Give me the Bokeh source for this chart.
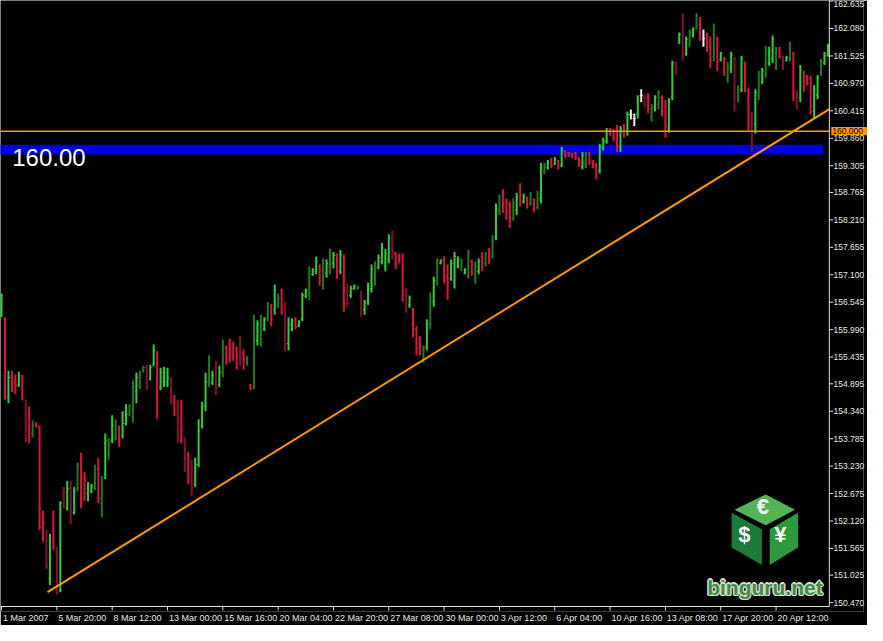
from bokeh.plotting import figure
from bokeh.models import Range1d, FixedTicker, NumeralTickFormatter, Label
from bokeh.core.properties import value
from bokeh.embed import file_html
from bokeh.resources import INLINE

# ---------------- data (USD/JPY, H4 bars, 1 Mar - 23 Apr 2007) ----------------
highs = [156.72, 156.24, 155.16, 155.16, 155.08, 155.14, 155.08, 154.57, 154.44, 154.16,
         154.11, 154.05, 152.33, 151.94, 151.86, 152.33, 151.60, 152.52, 152.81, 152.93,
         152.93, 152.81, 153.30, 153.50, 153.11, 152.91, 152.87, 153.26, 153.40, 153.03,
         153.89, 153.79, 154.26, 154.18, 154.05, 154.34, 154.48, 154.48, 154.96, 155.12,
         155.16, 155.26, 155.28, 155.28, 155.69, 155.55, 155.22, 155.24, 155.22, 155.02,
         154.67, 154.57, 154.57, 153.81, 153.52, 153.36, 153.40, 154.18, 154.53, 155.12,
         155.47, 155.16, 155.36, 155.26, 155.79, 155.67, 155.81, 155.75, 155.65, 155.86,
         155.59, 155.45, 154.89, 156.29, 156.18, 156.29, 156.24, 156.55, 156.51, 156.90,
         156.72, 156.82, 156.55, 156.24, 156.22, 156.24, 156.18, 156.74, 156.82, 157.27,
         157.23, 157.47, 157.31, 157.43, 157.41, 157.62, 157.56, 157.53, 157.60, 157.51,
         156.92, 156.88, 156.90, 156.88, 156.78, 156.59, 156.94, 157.31, 157.37, 157.51,
         157.74, 157.62, 157.92, 158.00, 157.56, 157.53, 157.53, 156.84, 156.68, 156.43,
         156.06, 155.86, 155.67, 156.20, 156.74, 157.06, 157.43, 157.41, 157.47, 157.31,
         157.41, 157.56, 157.47, 157.43, 157.23, 157.60, 157.41, 157.37, 157.43, 157.56,
         157.56, 157.64, 157.90, 158.54, 158.72, 158.83, 158.64, 158.58, 158.64, 158.76,
         158.95, 158.74, 158.68, 158.78, 158.64, 158.80, 159.36, 159.36, 159.42, 159.46,
         159.48, 159.42, 159.69, 159.62, 159.58, 159.56, 159.58, 159.48, 159.58, 159.58,
         159.58, 159.42, 159.36, 159.75, 159.87, 160.07, 160.07, 160.05, 160.13, 160.11,
         160.15, 160.40, 160.44, 160.36, 160.73, 160.85, 160.75, 160.77, 160.56, 160.73,
         160.83, 160.73, 160.63, 160.67, 161.43, 161.41, 162.00, 162.39, 161.92, 162.06,
         162.10, 162.39, 162.31, 162.06, 162.00, 161.92, 162.18, 161.92, 161.61, 161.51,
         161.40, 161.61, 161.51, 160.93, 161.53, 161.41, 160.87, 160.40, 160.85, 161.22,
         161.28, 161.73, 161.71, 161.94, 161.71, 161.71, 161.53, 161.53, 161.81, 161.61,
         160.83, 161.34, 161.22, 161.14, 161.12, 160.93, 161.14, 161.47, 161.61, 161.77]

lows = [156.24, 154.57, 154.50, 154.73, 154.69, 154.83, 154.57, 153.71, 153.70, 153.81,
        154.01, 151.94, 151.70, 151.15, 150.82, 151.54, 150.63, 150.68, 152.38, 152.33,
        152.05, 152.25, 152.72, 152.38, 152.52, 152.52, 152.68, 152.74, 152.48, 152.19,
        152.97, 153.36, 153.70, 153.75, 153.62, 153.79, 154.05, 154.24, 154.11, 154.50,
        154.79, 155.12, 154.77, 154.96, 155.26, 154.18, 154.77, 154.83, 154.83, 154.48,
        154.24, 153.71, 153.70, 153.11, 152.87, 152.62, 152.81, 153.21, 153.99, 154.34,
        154.83, 154.87, 154.67, 154.83, 155.02, 155.28, 155.32, 155.36, 155.18, 155.26,
        155.18, 155.26, 154.77, 154.79, 155.67, 155.65, 155.96, 156.16, 156.06, 156.29,
        156.43, 156.29, 155.55, 155.57, 155.96, 156.00, 156.04, 156.16, 156.63, 156.59,
        157.08, 157.11, 156.88, 156.80, 157.04, 157.11, 157.23, 157.02, 157.11, 156.35,
        156.45, 156.63, 156.80, 156.80, 156.26, 156.29, 156.49, 156.74, 156.88, 157.21,
        157.31, 157.17, 157.33, 157.41, 157.21, 157.33, 156.55, 156.33, 156.43, 155.84,
        155.47, 155.47, 155.32, 155.57, 156.00, 156.45, 156.88, 157.31, 156.92, 156.59,
        156.98, 156.82, 157.23, 157.17, 157.11, 157.02, 157.08, 156.92, 157.11, 157.17,
        157.27, 157.31, 157.43, 157.80, 158.31, 158.35, 158.21, 158.05, 158.19, 158.31,
        158.48, 158.54, 158.44, 158.50, 158.37, 158.42, 158.54, 159.13, 159.23, 159.26,
        159.32, 159.23, 159.28, 159.46, 159.48, 159.46, 159.42, 159.28, 159.23, 159.26,
        159.32, 159.26, 159.03, 159.15, 159.62, 159.75, 159.91, 159.81, 159.58, 159.58,
        159.87, 159.91, 160.24, 160.11, 160.26, 160.59, 160.46, 160.36, 160.20, 160.40,
        160.44, 160.30, 159.87, 159.97, 160.63, 161.14, 161.77, 161.43, 161.53, 161.71,
        161.90, 162.06, 161.83, 161.71, 161.61, 161.28, 161.41, 161.22, 161.41, 161.12,
        160.98, 161.18, 160.40, 160.59, 160.79, 160.79, 160.01, 159.58, 159.95, 160.63,
        160.95, 161.08, 161.32, 161.38, 161.24, 161.47, 161.24, 161.41, 161.41, 160.61,
        160.44, 160.59, 160.79, 160.93, 160.34, 160.26, 160.65, 161.12, 161.34, 161.51]

opens = [156.27, 156.20, 154.63, 155.02, 154.93, 154.87, 155.02, 154.57, 154.05, 153.89,
         154.09, 154.03, 152.19, 152.09, 150.96, 152.09, 151.54, 150.72, 152.78, 152.38,
         152.78, 152.29, 152.78, 153.26, 152.97, 152.68, 152.72, 152.78, 153.17, 152.48,
         153.07, 153.46, 153.75, 153.81, 154.01, 153.85, 154.09, 154.28, 154.24, 154.73,
         154.87, 155.14, 155.22, 154.98, 155.26, 155.55, 154.83, 154.93, 154.93, 154.98,
         154.59, 154.44, 154.44, 153.75, 153.46, 153.26, 152.87, 153.26, 154.05, 154.44,
         154.93, 154.91, 155.22, 154.87, 155.12, 155.61, 155.71, 155.65, 155.61, 155.81,
         155.51, 155.32, 154.87, 154.83, 155.77, 155.81, 156.00, 156.24, 156.47, 156.39,
         156.49, 156.78, 156.49, 155.71, 156.00, 156.20, 156.06, 156.20, 156.67, 156.68,
         157.10, 157.17, 157.27, 156.88, 157.13, 157.17, 157.33, 157.49, 157.17, 157.47,
         156.84, 156.68, 156.82, 156.82, 156.74, 156.39, 156.55, 156.82, 156.98, 157.25,
         157.37, 157.27, 157.41, 157.86, 157.53, 157.49, 157.45, 156.78, 156.49, 156.39,
         156.00, 155.71, 155.38, 155.65, 156.10, 156.55, 156.98, 157.33, 157.41, 157.08,
         157.02, 156.98, 157.27, 157.25, 157.13, 157.08, 157.37, 157.02, 157.17, 157.47,
         157.33, 157.56, 157.47, 157.86, 158.39, 158.74, 158.58, 158.50, 158.25, 158.39,
         158.89, 158.58, 158.64, 158.54, 158.62, 158.46, 158.64, 159.17, 159.26, 159.42,
         159.34, 159.40, 159.32, 159.60, 159.56, 159.54, 159.56, 159.46, 159.28, 159.32,
         159.54, 159.40, 159.32, 159.21, 159.68, 159.79, 160.05, 160.01, 160.07, 159.68,
         160.11, 159.99, 160.34, 160.26, 160.34, 160.73, 160.69, 160.69, 160.30, 160.46,
         160.54, 160.69, 160.50, 160.07, 160.69, 161.40, 161.79, 162.30, 161.57, 161.77,
         161.94, 162.10, 162.26, 161.88, 161.96, 161.83, 161.51, 161.86, 161.45, 161.47,
         161.08, 161.28, 161.47, 160.69, 160.85, 161.38, 160.83, 160.36, 160.15, 160.73,
         161.00, 161.16, 161.38, 161.47, 161.32, 161.67, 161.51, 161.43, 161.47, 161.57,
         160.79, 160.69, 161.18, 161.12, 161.08, 160.40, 160.73, 161.18, 161.38, 161.57]

closes = [156.67, 154.79, 155.02, 154.89, 154.87, 155.06, 154.57, 153.95, 153.89, 154.05,
          154.03, 151.99, 152.09, 151.21, 151.21, 151.70, 150.68, 152.48, 152.48, 152.78,
          152.19, 152.72, 153.23, 152.68, 152.78, 152.87, 152.83, 153.17, 152.58, 152.97,
          153.75, 153.70, 154.05, 154.05, 153.75, 154.09, 154.28, 154.44, 154.83, 155.02,
          155.06, 155.22, 154.83, 155.22, 155.57, 154.63, 155.12, 155.12, 155.02, 154.53,
          154.34, 153.85, 153.95, 153.17, 152.97, 152.78, 153.26, 153.95, 154.44, 154.93,
          155.38, 155.06, 154.83, 155.12, 155.65, 155.38, 155.41, 155.41, 155.45, 155.41,
          155.38, 155.41, 154.79, 155.81, 156.10, 156.16, 156.20, 156.43, 156.20, 156.78,
          156.63, 156.39, 155.71, 156.10, 156.16, 156.04, 156.14, 156.68, 156.78, 157.17,
          157.21, 157.37, 156.98, 157.37, 157.33, 157.53, 157.49, 157.17, 157.51, 156.78,
          156.53, 156.82, 156.88, 156.86, 156.39, 156.53, 156.86, 157.21, 157.27, 157.45,
          157.64, 157.53, 157.84, 157.56, 157.33, 157.37, 156.68, 156.43, 156.63, 156.00,
          155.61, 155.51, 155.61, 156.10, 156.63, 156.98, 157.37, 157.39, 156.98, 156.94,
          157.33, 157.47, 157.41, 157.37, 157.21, 157.53, 157.13, 157.27, 157.37, 157.27,
          157.51, 157.41, 157.80, 158.44, 158.64, 158.50, 158.35, 158.25, 158.54, 158.68,
          158.58, 158.68, 158.50, 158.70, 158.44, 158.74, 159.28, 159.28, 159.36, 159.32,
          159.44, 159.28, 159.62, 159.50, 159.52, 159.48, 159.46, 159.32, 159.52, 159.52,
          159.38, 159.30, 159.09, 159.68, 159.81, 160.01, 159.95, 159.87, 159.71, 160.05,
          159.95, 160.34, 160.34, 160.26, 160.65, 160.73, 160.54, 160.46, 160.50, 160.69,
          160.77, 160.40, 160.11, 160.59, 161.36, 161.24, 161.96, 161.57, 161.86, 162.00,
          162.06, 162.33, 161.96, 161.88, 161.71, 161.43, 162.06, 161.41, 161.57, 161.20,
          161.32, 161.53, 160.69, 160.85, 161.47, 160.93, 160.20, 160.24, 160.79, 161.12,
          161.22, 161.63, 161.63, 161.86, 161.63, 161.51, 161.32, 161.49, 161.71, 160.79,
          160.54, 161.24, 160.89, 160.98, 160.50, 160.85, 161.08, 161.41, 161.53, 161.71]

# bar colour class: g = up, G = up (dark), r = down, R = down (dark), w = neutral
bar_classes = list(
    "grgrrgrRrG" "rrrRgrRgRg" "RgGrrggGrG" "gGgGrggGGg" "GGRggrgggR"
    "rRrRrRgggg" "GgRgGrrrrR" "rGrGgGgGrg" "GrRggrgggG" "ggrGgGgrgr"
    "RggGRgggGg" "gggRrrrRgr" "rrGgGgGgrr" "gggGgGrGgr" "GrGgGrrrGg"
    "rgrGrGgGgr" "grgrrrrrgG" "rrrgggrrrg" "rgwwgwRrGg" "GrrggRgRgG"
    "gGrwrrGrgr" "GgRGgrrRgG" "gGggGrRgGr" "RgrrrggGgg"
)

time_tick_bars = [0, 16, 32, 48, 64, 80, 96, 112, 128, 144, 160, 176, 192, 208, 224]
time_tick_labels = ["1 Mar 2007", "5 Mar 20:00", "8 Mar 12:00", "13 Mar 00:00",
                    "15 Mar 16:00", "20 Mar 04:00", "22 Mar 20:00", "27 Mar 08:00",
                    "30 Mar 00:00", "3 Apr 12:00", "6 Apr 04:00", "10 Apr 16:00",
                    "13 Apr 08:00", "17 Apr 20:00", "20 Apr 12:00"]

price_ticks = [150.470, 151.025, 151.565, 152.120, 152.675, 153.230, 153.785, 154.340,
               154.895, 155.435, 155.990, 156.545, 157.100, 157.655, 158.210, 158.765,
               159.305, 159.860, 160.415, 160.970, 161.525, 162.080, 162.635]

level_price = 160.00                   # horizontal line
level_tag = "160.000"
zone_low, zone_high = 159.53, 159.73   # blue zone
zone_end_bar = 237.7
trend_bars = [13.3, 239.4]             # trend line anchors
trend_prices = [150.68, 160.45]

# ---------------- geometry ----------------
W, H = 867, 625
X_MIN = -0.3            # left edge of the chart
AXIS_X = 239.4          # price-scale line (right end of the chart area)
Y_AXIS, Y_MAX = 150.391, 162.646   # time-scale line and top of chart
CHART_PX = 832.0        # pixels given to the bars
PX_PER_BAR = CHART_PX / (AXIS_X - X_MIN)
FRAME_X_MAX = X_MIN + (W - 0.7) / PX_PER_BAR   # frame also covers the price-label column
FRAME_H = 612.0         # approx. frame height (figure minus the time-label row)
TICK_PX = 4
PX_PER_PRICE = (FRAME_H - TICK_PX - 1) / (Y_MAX - Y_AXIS)
Y_MIN = Y_AXIS - (TICK_PX + 1) / PX_PER_PRICE  # frame also covers the time tick marks

LINE_COLOR = "#e0e0e0"
LABEL_COLOR = "#e8e8e8"
FONT = "Liberation Sans"

palette = {"g": "#32cd32", "G": "#1f7a1f", "r": "#dc143c", "R": "#850f30", "w": "#f0f0f0"}
bars = list(range(len(highs)))
colors = [palette[c] for c in bar_classes]

p = figure(width=W, height=H, x_range=Range1d(X_MIN, FRAME_X_MAX), y_range=Range1d(Y_MIN, Y_MAX),
           output_backend="svg", toolbar_location=None, y_axis_location="right",
           min_border_left=0, min_border_right=0, min_border_top=0, min_border_bottom=0,
           background_fill_color="black", border_fill_color="black")
p.grid.visible = False
p.outline_line_color = None


def X(px):
    """reference-pixel x -> bar coordinate (for decorations)"""
    return X_MIN + px * (AXIS_X - X_MIN) / 848.0


def Y(py):
    """reference-pixel y -> price coordinate (for decorations)"""
    return Y_MAX - py * (Y_MAX - Y_AXIS) / 627.0


# blue zone
p.quad(left=[X_MIN - 1], right=[zone_end_bar], bottom=[zone_low], top=[zone_high],
       fill_color="#0000dc", line_color=None)

# OHLC bars
tick_len = 0.45
p.segment(x0=bars, y0=lows, x1=bars, y1=highs, line_color=colors, line_width=2)
p.segment(x0=[b - tick_len for b in bars], y0=opens, x1=bars, y1=opens,
          line_color=colors, line_width=1)
p.segment(x0=bars, y0=closes, x1=[b + tick_len for b in bars], y1=closes,
          line_color=colors, line_width=1)

# horizontal level and trend line
p.segment(x0=[X_MIN - 1], x1=[AXIS_X], y0=[level_price], y1=[level_price],
          line_color="#ff9900", line_width=1.5)
p.line(trend_bars, trend_prices, line_color="#ff9900", line_width=2)

# text "160.00"
p.add_layout(Label(x=X(12), y=Y(162), text="160.00", text_color="white",
                   text_font=FONT, text_font_size="24px",
                   text_baseline="alphabetic", text_align="left"))

# ---- scale lines and tick marks (labels come from the axes) ----
p.segment(x0=[AXIS_X, X_MIN - 1], x1=[AXIS_X, AXIS_X], y0=[Y_AXIS, Y_AXIS], y1=[Y_MAX + 1, Y_AXIS],
          line_color=LINE_COLOR, line_width=1)
tick_w = TICK_PX / PX_PER_BAR
p.segment(x0=[AXIS_X] * len(price_ticks), x1=[AXIS_X + tick_w] * len(price_ticks),
          y0=price_ticks, y1=price_ticks, line_color=LINE_COLOR, line_width=1)
tick_h = TICK_PX / PX_PER_PRICE
p.segment(x0=time_tick_bars, x1=time_tick_bars, y0=[Y_AXIS] * len(time_tick_bars),
          y1=[Y_AXIS - tick_h] * len(time_tick_bars), line_color=LINE_COLOR, line_width=1)

# level price tag over the price scale
p.quad(left=[X(850)], right=[FRAME_X_MAX + 1], bottom=[Y(139.5)], top=[Y(131)],
       fill_color="#ff9900", line_color=None, level="overlay")
p.text(x=[X(851)], y=[level_price], text=[level_tag], text_color="black",
       text_font=value(FONT), text_font_size="8.5px",
       text_baseline="middle", text_align="left", level="overlay")

# ---- watermark logo ----
top_face = [(783, 511), (813, 527), (783, 543), (751, 527)]
left_face = [(748, 530), (779, 547), (779, 584), (748, 566)]
right_face = [(787, 547), (816, 530), (816, 566), (787, 584)]
faces = [top_face, left_face, right_face]
p.patches(xs=[[X(a) for a, b in f] for f in faces], ys=[[Y(b) for a, b in f] for f in faces],
          fill_color=["#52b452", "#1c7a3a", "#2c9a3c"], line_color=None)
p.text(x=[X(780), X(761), X(798)], y=[Y(524), Y(553), Y(553)], text=["€", "$", "¥"],
       text_color="white", text_font=value(FONT), text_font_size="22px",
       text_align="center", text_baseline="middle", text_font_style="bold")
for dx, dy in [(-1.5, 0), (1.5, 0), (0, -1.5), (0, 1.5), (-1, -1), (1, 1), (-1, 1), (1, -1)]:
    p.text(x=[X(723 + dx)], y=[Y(607 + dy)], text=["binguru.net"], text_color="#d8d8d8",
           text_font=value(FONT), text_font_size="21px", text_font_style="bold",
           text_baseline="alphabetic", text_align="left")
p.text(x=[X(723)], y=[Y(607)], text=["binguru.net"], text_color="#3d8f3d",
       text_font=value(FONT), text_font_size="21px", text_font_style="bold",
       text_baseline="alphabetic", text_align="left")

# ---- axes (labels only; lines and tick marks drawn above) ----
em = {" ": 0.278, ":": 0.278, "M": 0.833, "a": 0.556, "r": 0.333, "A": 0.667, "p": 0.556}
LABEL_PX = 9


def text_px(s):
    return sum(em.get(ch, 0.556) for ch in s) * LABEL_PX


# time labels start just right of each tick mark
label_pos = [round(b + (1.5 + text_px(s) / 2) / PX_PER_BAR, 3)
             for b, s in zip(time_tick_bars, time_tick_labels)]
xa = p.xaxis[0]
xa.ticker = FixedTicker(ticks=label_pos)
xa.major_label_overrides = {v: s for v, s in zip(label_pos, time_tick_labels)}
xa.axis_line_color = None
xa.major_tick_line_color = None
xa.minor_tick_line_color = None
xa.major_tick_in = 0
xa.major_tick_out = 0
xa.major_label_standoff = 1
xa.major_label_text_color = LABEL_COLOR
xa.major_label_text_font = FONT
xa.major_label_text_font_size = f"{LABEL_PX}px"

# price labels placed in the price column
ya = p.yaxis[0]
ya.ticker = FixedTicker(ticks=price_ticks)
ya.formatter = NumeralTickFormatter(format="0.000")
ya.axis_line_color = None
ya.major_tick_line_color = None
ya.minor_tick_line_color = None
ya.major_tick_in = 0
ya.major_tick_out = 0
ya.major_label_standoff = -30
ya.major_label_text_color = LABEL_COLOR
ya.major_label_text_font = FONT
ya.major_label_text_font_size = "8.5px"

open("out.html", "w").write(file_html(p, INLINE))
